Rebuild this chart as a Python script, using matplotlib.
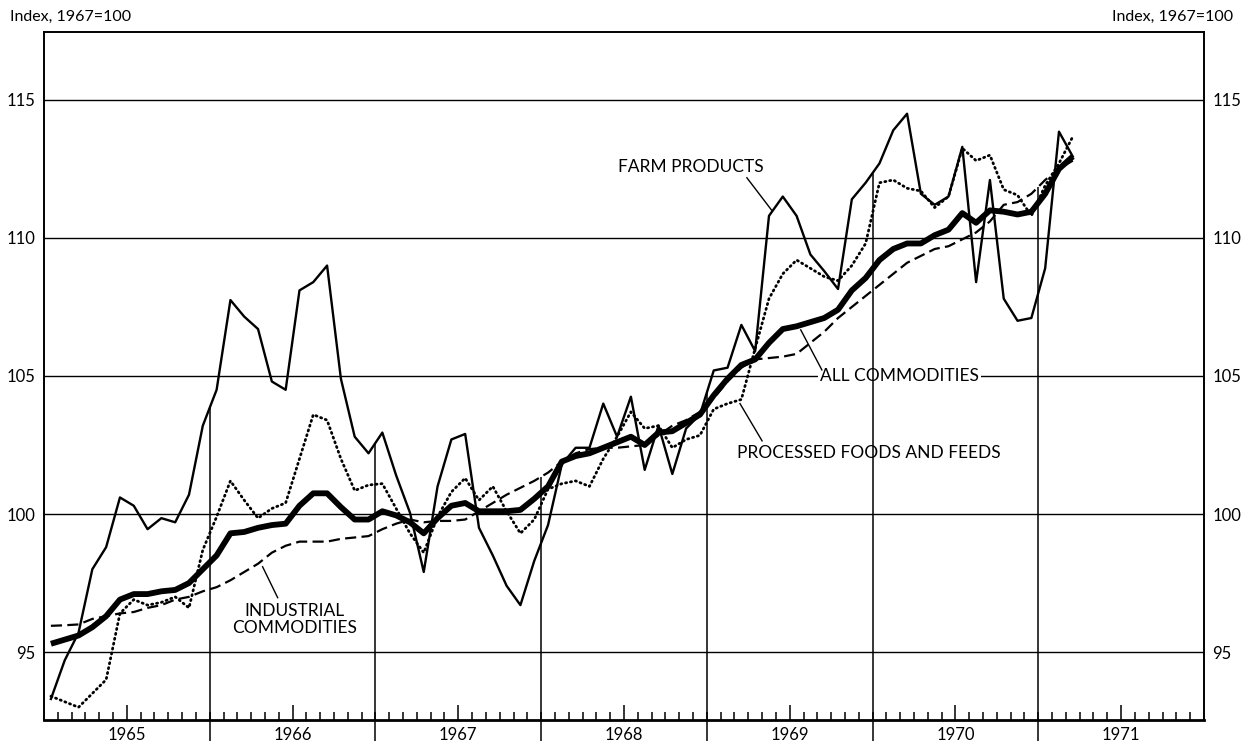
import numpy as np
import matplotlib
matplotlib.use("Agg")
import matplotlib.pyplot as plt
from matplotlib.ticker import FixedLocator

# Settings for matplotlib figure size, font and dpi
plt.rcParams["figure.figsize"] = [12.43, 7.46]
plt.rcParams["figure.dpi"] = 100
plt.rcParams["font.family"] = ["Lato", "DejaVu Sans"]

years = ["1965", "1966", "1967", "1968", "1969", "1970", "1971"]
y_ticks = [95, 100, 105, 110, 115]

# Monthly wholesale price indexes, Jan 1965 - Mar 1971 (1967 = 100)
farm_products = [
	93.3, 94.7, 95.7, 98.0, 98.8, 100.6, 100.3, 99.45, 99.85, 99.7, 100.7, 103.2,
	104.5, 107.75, 107.15, 106.7, 104.8, 104.5, 108.1, 108.4, 109.0, 104.9, 102.8, 102.2,
	102.95, 101.4, 100.05, 97.9, 101.0, 102.7, 102.9, 99.5, 98.5, 97.4, 96.7, 98.3,
	99.6, 101.8, 102.4, 102.4, 104.0, 102.8, 104.25, 101.6, 103.2, 101.45, 103.1, 103.6,
	105.2, 105.3, 106.85, 105.9, 110.8, 111.5, 110.8, 109.4, 108.8, 108.15, 111.4, 112.0,
	112.7, 113.9, 114.5, 111.6, 111.2, 111.5, 113.3, 108.4, 112.1, 107.8, 107.0, 107.1,
	108.9, 113.85, 112.95]

all_commodities = [
	95.3, 95.45, 95.6, 95.9, 96.3, 96.9, 97.1, 97.1, 97.2, 97.25, 97.5, 98.0,
	98.5, 99.3, 99.35, 99.5, 99.6, 99.65, 100.3, 100.75, 100.75, 100.25, 99.8, 99.8,
	100.1, 99.95, 99.7, 99.3, 99.85, 100.3, 100.4, 100.1, 100.1, 100.1, 100.15, 100.55,
	101.0, 101.9, 102.1, 102.2, 102.4, 102.6, 102.8, 102.5, 102.95, 103.0, 103.3, 103.6,
	104.3, 104.9, 105.4, 105.6, 106.2, 106.7, 106.8, 106.95, 107.1, 107.4, 108.1, 108.55,
	109.2, 109.6, 109.8, 109.8, 110.1, 110.3, 110.9, 110.55, 111.0, 110.95, 110.85, 110.95,
	111.6, 112.5, 112.95]

processed_foods = [
	93.4, 93.2, 93.0, 93.5, 94.0, 96.4, 96.9, 96.7, 96.8, 97.0, 96.6, 98.7,
	99.9, 101.2, 100.5, 99.85, 100.2, 100.4, 102.0, 103.6, 103.4, 102.0, 100.85, 101.05,
	101.1, 100.2, 99.3, 98.6, 99.9, 100.8, 101.3, 100.5, 101.0, 100.1, 99.3, 99.8,
	100.9, 101.1, 101.2, 101.0, 102.0, 102.8, 103.7, 103.1, 103.2, 102.4, 102.7, 102.85,
	103.8, 104.0, 104.15, 106.0, 107.8, 108.7, 109.2, 108.9, 108.6, 108.45, 109.0, 109.8,
	112.0, 112.1, 111.8, 111.7, 111.1, 111.5, 113.25, 112.8, 113.0, 111.75, 111.55, 110.8,
	111.9, 112.7, 113.67]

industrial = [
	95.95, 95.97, 96.0, 96.2, 96.3, 96.4, 96.45, 96.6, 96.7, 96.9, 97.0, 97.2,
	97.35, 97.6, 97.9, 98.2, 98.6, 98.85, 99.0, 99.0, 99.0, 99.1, 99.15, 99.2,
	99.45, 99.65, 99.8, 99.7, 99.75, 99.75, 99.8, 100.1, 100.4, 100.7, 100.95, 101.2,
	101.5, 101.9, 102.2, 102.35, 102.4, 102.4, 102.45, 102.5, 102.85, 103.2, 103.4, 103.7,
	104.2, 104.8, 105.3, 105.6, 105.65, 105.7, 105.8, 106.2, 106.6, 107.1, 107.5, 107.9,
	108.3, 108.7, 109.1, 109.35, 109.6, 109.7, 109.95, 110.2, 110.6, 111.2, 111.3, 111.6,
	112.1, 112.5, 112.8]

months = np.arange(len(farm_products)) + 0.5
y_min, y_max = 92.54, 117.46
n_months = 12 * len(years)

fig = plt.figure()
ax = fig.add_axes([0.0354, 0.0349, 0.9332, 0.9222])

ax.plot(months, farm_products, color="black", lw=1.7, zorder=4)
ax.plot(months, processed_foods, color="black", lw=2.0, linestyle=(0, (0.4, 1.4)),
		dash_capstyle="round", zorder=4)
ax.plot(months, industrial, color="black", lw=1.6, linestyle=(0, (5, 2.4)), zorder=4)
ax.plot(months, all_commodities, color="black", lw=4.2, solid_capstyle="butt", zorder=5)

# year boundaries: from just under the axis up to the highest curve
series = [farm_products, all_commodities, processed_foods, industrial]
for b in range(12, n_months, 12):
	top = max(np.interp(b, months, s) for s in series)
	ax.vlines(b, y_min - 0.75, top, color="black", lw=1.1, clip_on=False, zorder=2)

ax.set_xlim(0, n_months)
ax.set_ylim(y_min, y_max)
ax.set_yticks(y_ticks)
ax.yaxis.grid(True, color="black", lw=1.0)
ax.set_axisbelow(True)
ax.tick_params(axis="y", which="both", length=0, pad=6, labelsize=12,
			   labelleft=True, labelright=True)

ax.xaxis.set_major_locator(FixedLocator(np.arange(6, n_months, 12)))
ax.set_xticklabels(years)
ax.xaxis.set_minor_locator(FixedLocator(np.arange(1, n_months)))
ax.tick_params(axis="x", which="major", direction="in", length=11, width=1.1,
			   pad=5, labelsize=12)
ax.tick_params(axis="x", which="minor", direction="in", length=5.5, width=1.1)

for side in ["left", "top", "right"]:
	ax.spines[side].set_linewidth(1.4)
ax.spines["bottom"].set_linewidth(2)

# series labels with pointer lines
label_kw = dict(fontsize=12.5, color="black", zorder=3)
ax.text(46.85, 112.57, "FARM PRODUCTS", ha="center", va="center", **label_kw)
ax.plot([50.9, 52.7], [112.18, 111.0], color="black", lw=1.0, zorder=3)

ax.text(56.2, 105.0, "ALL COMMODITIES", ha="left", va="center",
		bbox=dict(facecolor="white", edgecolor="none", pad=1.5), fontsize=12.5, zorder=1.5)
ax.plot([54.8, 56.33], [106.67, 105.22], color="black", lw=1.0, zorder=3)

ax.text(50.2, 102.22, "PROCESSED FOODS AND FEEDS", ha="left", va="center", **label_kw)
ax.plot([50.4, 52.0], [104.0, 102.65], color="black", lw=1.0, zorder=3)

ax.text(18.15, 96.17, "INDUSTRIAL\nCOMMODITIES", ha="center", va="center",
		linespacing=1.05, **label_kw)
ax.plot([15.83, 16.92], [98.09, 96.97], color="black", lw=1.0, zorder=3)

fig.text(0.008, 0.977, "Index, 1967=100", ha="left", va="center", fontsize=11.5)
fig.text(0.992, 0.977, "Index, 1967=100", ha="right", va="center", fontsize=11.5)

fig.savefig("out.png", dpi=100)
